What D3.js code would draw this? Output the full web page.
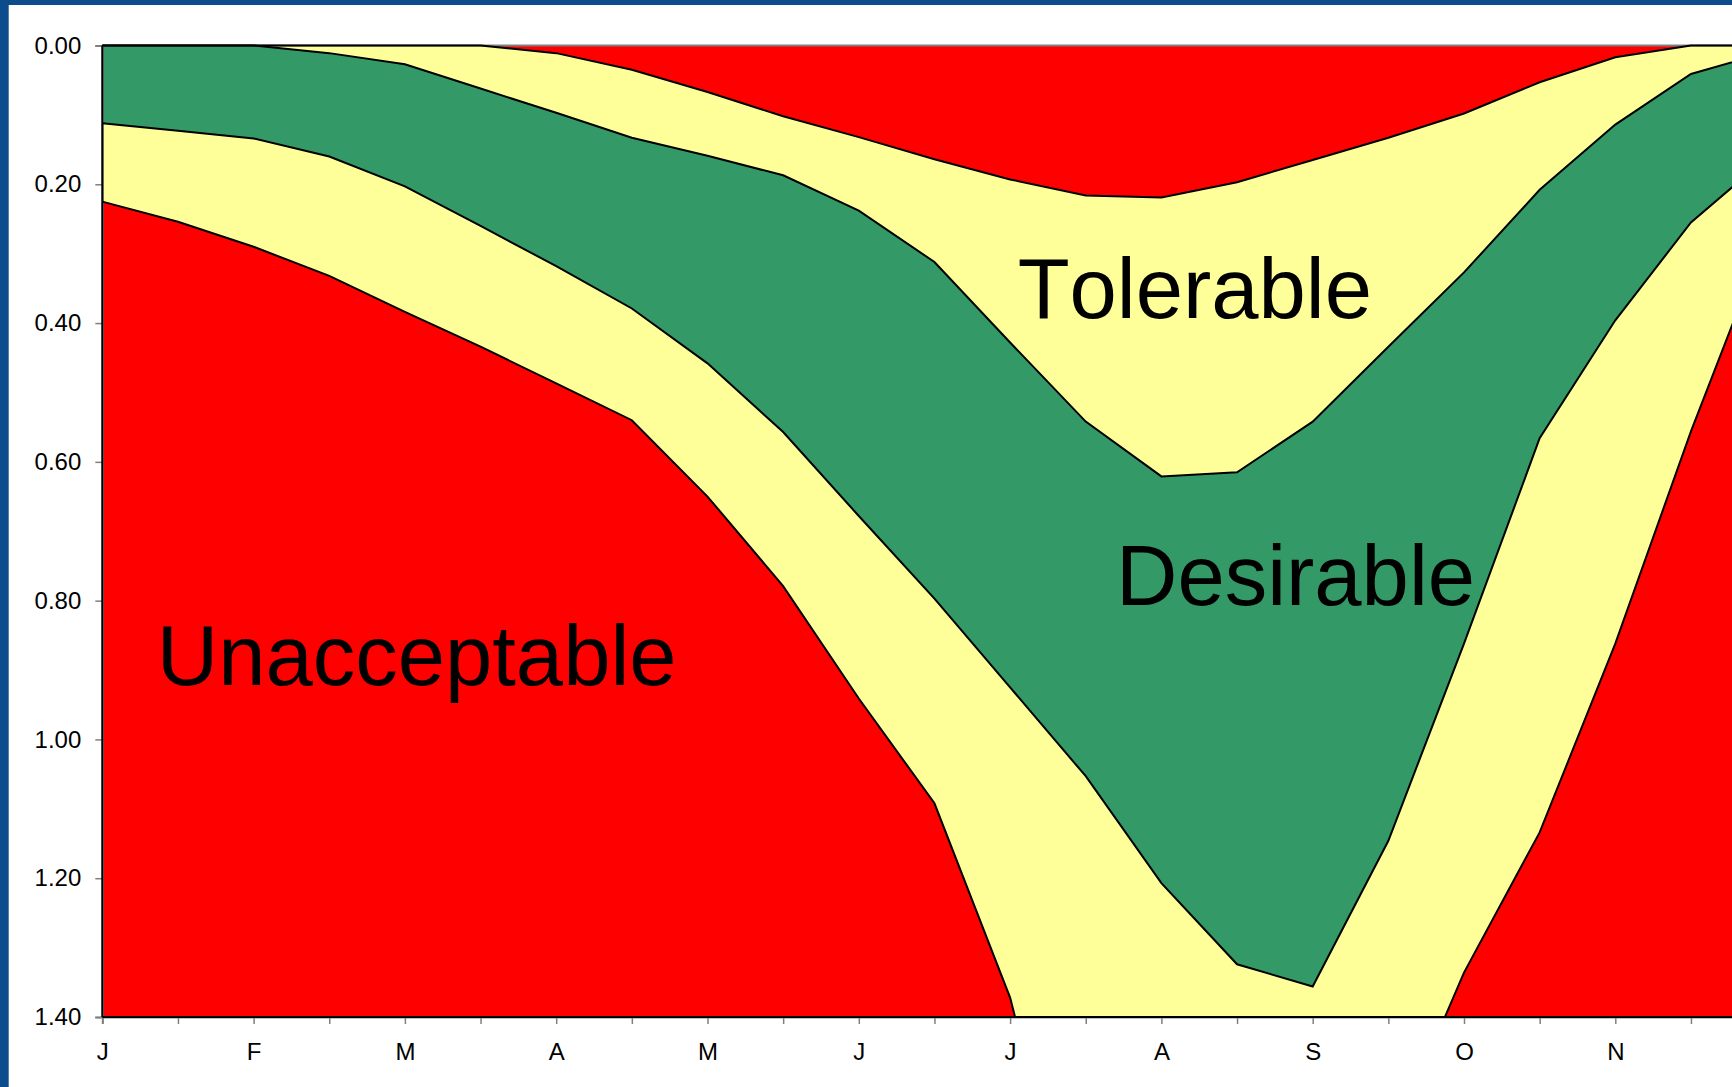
<!DOCTYPE html>
<html>
<head>
<meta charset="utf-8">
<script src="https://cdn.jsdelivr.net/npm/d3@7"></script>
<style>
	body { margin: 0; background: #ffffff; }
	svg { display: block; }
	text { font-family: "Liberation Sans", Arial, sans-serif; font-kerning: none; }
</style>
</head>
<body>
<div id="chart"></div>
<script>
// one tick per half month, label on every month
const month_labels = ['J','F','M','A','M','J','J','A','S','O','N','D'];

// depth of each zone edge, per half month (J, J+, F, F+ ... D)
const red_top_edge          = [0, 0, 0, 0, 0, 0, 0.011, 0.035, 0.067, 0.102, 0.132, 0.164, 0.193, 0.216, 0.219, 0.197, 0.165, 0.133, 0.098, 0.053, 0.017, 0, 0];
const desirable_top_edge    = [0, 0, 0, 0.011, 0.027, 0.062, 0.097, 0.133, 0.159, 0.187, 0.238, 0.312, 0.428, 0.542, 0.621, 0.615, 0.542, 0.434, 0.327, 0.208, 0.114, 0.041, 0.01];
const desirable_bottom_edge = [0.112, 0.123, 0.134, 0.16, 0.203, 0.26, 0.318, 0.379, 0.458, 0.557, 0.678, 0.797, 0.925, 1.053, 1.207, 1.324, 1.356, 1.146, 0.862, 0.566, 0.396, 0.255, 0.162];
const red_bottom_edge       = [0.225, 0.254, 0.29, 0.332, 0.384, 0.434, 0.487, 0.54, 0.65, 0.779, 0.941, 1.092, 1.372, 1.8, 2.0, 2.0, 1.95, 1.59, 1.336, 1.134, 0.862, 0.556, 0.275];

const y_ticks = [0, 0.2, 0.4, 0.6, 0.8, 1.0, 1.2, 1.4];
const y_max = 1.4;

const zone_names = ['Unacceptable', 'Tolerable', 'Desirable'];

const width = 1732;
const height = 1087;
const plot_left = 102.3;
const plot_top = 45.5;
const plot_bottom = 1017;
const step = 75.65;

let data = red_top_edge.map((v, i) => ({
	i: i,
	a: red_top_edge[i],
	b: desirable_top_edge[i],
	c: desirable_bottom_edge[i],
	d: red_bottom_edge[i]
}));

let x = d3.scaleLinear()
	.domain([0, data.length - 1])
	.range([plot_left, plot_left + (data.length - 1) * step]);

let y = d3.scaleLinear()
	.domain([0, y_max])
	.range([plot_top, plot_bottom]);

let svg = d3.select('#chart')
	.append('svg')
	.attr('width', width)
	.attr('height', height);

svg.append('rect')
	.attr('width', width)
	.attr('height', height)
	.attr('fill', '#ffffff');

// blue frame (top and left)
svg.append('rect').attr('x', 0).attr('y', 0).attr('width', width).attr('height', 5).attr('fill', '#0c4c8c');
svg.append('rect').attr('x', 0).attr('y', 0).attr('width', 8.7).attr('height', height).attr('fill', '#0c4c8c');

let defs = svg.append('defs');
defs.append('clipPath').attr('id', 'clip_area')
	.append('rect')
	.attr('x', plot_left).attr('y', plot_top)
	.attr('width', 3000).attr('height', plot_bottom - plot_top);
defs.append('clipPath').attr('id', 'clip_line')
	.append('rect')
	.attr('x', plot_left - 1).attr('y', plot_top - 3)
	.attr('width', 3000).attr('height', plot_bottom - plot_top + 4);

// zones from top to bottom
const bands = [
	{ top: d => 0,   bottom: d => d.a,   color: '#ff0000' },
	{ top: d => d.a, bottom: d => d.b,   color: '#ffff99' },
	{ top: d => d.b, bottom: d => d.c,   color: '#339966' },
	{ top: d => d.c, bottom: d => d.d,   color: '#ffff99' },
	{ top: d => d.d, bottom: d => y_max, color: '#ff0000' }
];

let area_group = svg.append('g').attr('clip-path', 'url(#clip_area)');

bands.forEach(function (band) {
	let area = d3.area()
		.x(d => x(d.i))
		.y0(d => y(band.top(d)))
		.y1(d => y(band.bottom(d)));

	area_group.append('path')
		.datum(data)
		.attr('d', area)
		.attr('fill', band.color);
});

// y axis
let y_axis = svg.append('g')
	.attr('transform', 'translate(' + plot_left + ',0)')
	.call(d3.axisLeft(y).tickValues(y_ticks).tickFormat(d3.format('.2f')).tickSize(7).tickPadding(14));

y_axis.select('.domain').attr('stroke', '#808080').attr('stroke-width', 2);
y_axis.selectAll('.tick line').attr('stroke', '#808080').attr('stroke-width', 1.5);
y_axis.selectAll('.tick text')
	.attr('font-size', 24)
	.attr('font-family', '"Liberation Sans", Arial, sans-serif')
	.attr('fill', '#000000');

// x axis, only the ticks that fall inside the window
let x_ticks = d3.range(data.length).filter(i => x(i) <= width);

let x_axis = svg.append('g')
	.attr('transform', 'translate(0,' + plot_bottom + ')')
	.call(d3.axisBottom(x)
		.tickValues(x_ticks)
		.tickFormat(i => i % 2 == 0 ? month_labels[i / 2] : '')
		.tickSize(7)
		.tickPadding(19));

x_axis.select('.domain').attr('stroke', '#808080').attr('stroke-width', 2);
x_axis.selectAll('.tick line').attr('stroke', '#808080').attr('stroke-width', 1.5);
x_axis.selectAll('.tick text')
	.attr('font-size', 24)
	.attr('font-family', '"Liberation Sans", Arial, sans-serif')
	.attr('fill', '#000000');

// grey line along the top
svg.append('line')
	.attr('x1', plot_left).attr('x2', width)
	.attr('y1', y(0)).attr('y2', y(0))
	.attr('stroke', '#808080')
	.attr('stroke-width', 2);

// black outlines of the zones
let line_group = svg.append('g').attr('clip-path', 'url(#clip_line)');

['a', 'b', 'c', 'd'].forEach(function (key) {
	let line = d3.line()
		.x(d => x(d.i))
		.y(d => y(d[key]));

	line_group.append('path')
		.datum(data)
		.attr('d', line)
		.attr('fill', 'none')
		.attr('stroke', '#000000')
		.attr('stroke-width', 2)
		.attr('stroke-linejoin', 'miter');
});

svg.append('line')
	.attr('x1', plot_left).attr('x2', plot_left)
	.attr('y1', y(0)).attr('y2', y(y_max))
	.attr('stroke', '#000000')
	.attr('stroke-width', 2);

svg.append('line')
	.attr('x1', plot_left).attr('x2', width)
	.attr('y1', y(y_max)).attr('y2', y(y_max))
	.attr('stroke', '#000000')
	.attr('stroke-width', 2);

// zone names
const label_spots = [
	{ text: zone_names[0], i: 0.72,  v: 0.921 },
	{ text: zone_names[1], i: 12.1,  v: 0.393 },
	{ text: zone_names[2], i: 13.4,  v: 0.806 }
];

svg.selectAll('.zone_label')
	.data(label_spots)
	.enter()
	.append('text')
	.attr('class', 'zone_label')
	.attr('x', d => x(d.i))
	.attr('y', d => y(d.v))
	.attr('font-size', 85)
	.attr('fill', '#000000')
	.text(d => d.text);
</script>
</body>
</html>
